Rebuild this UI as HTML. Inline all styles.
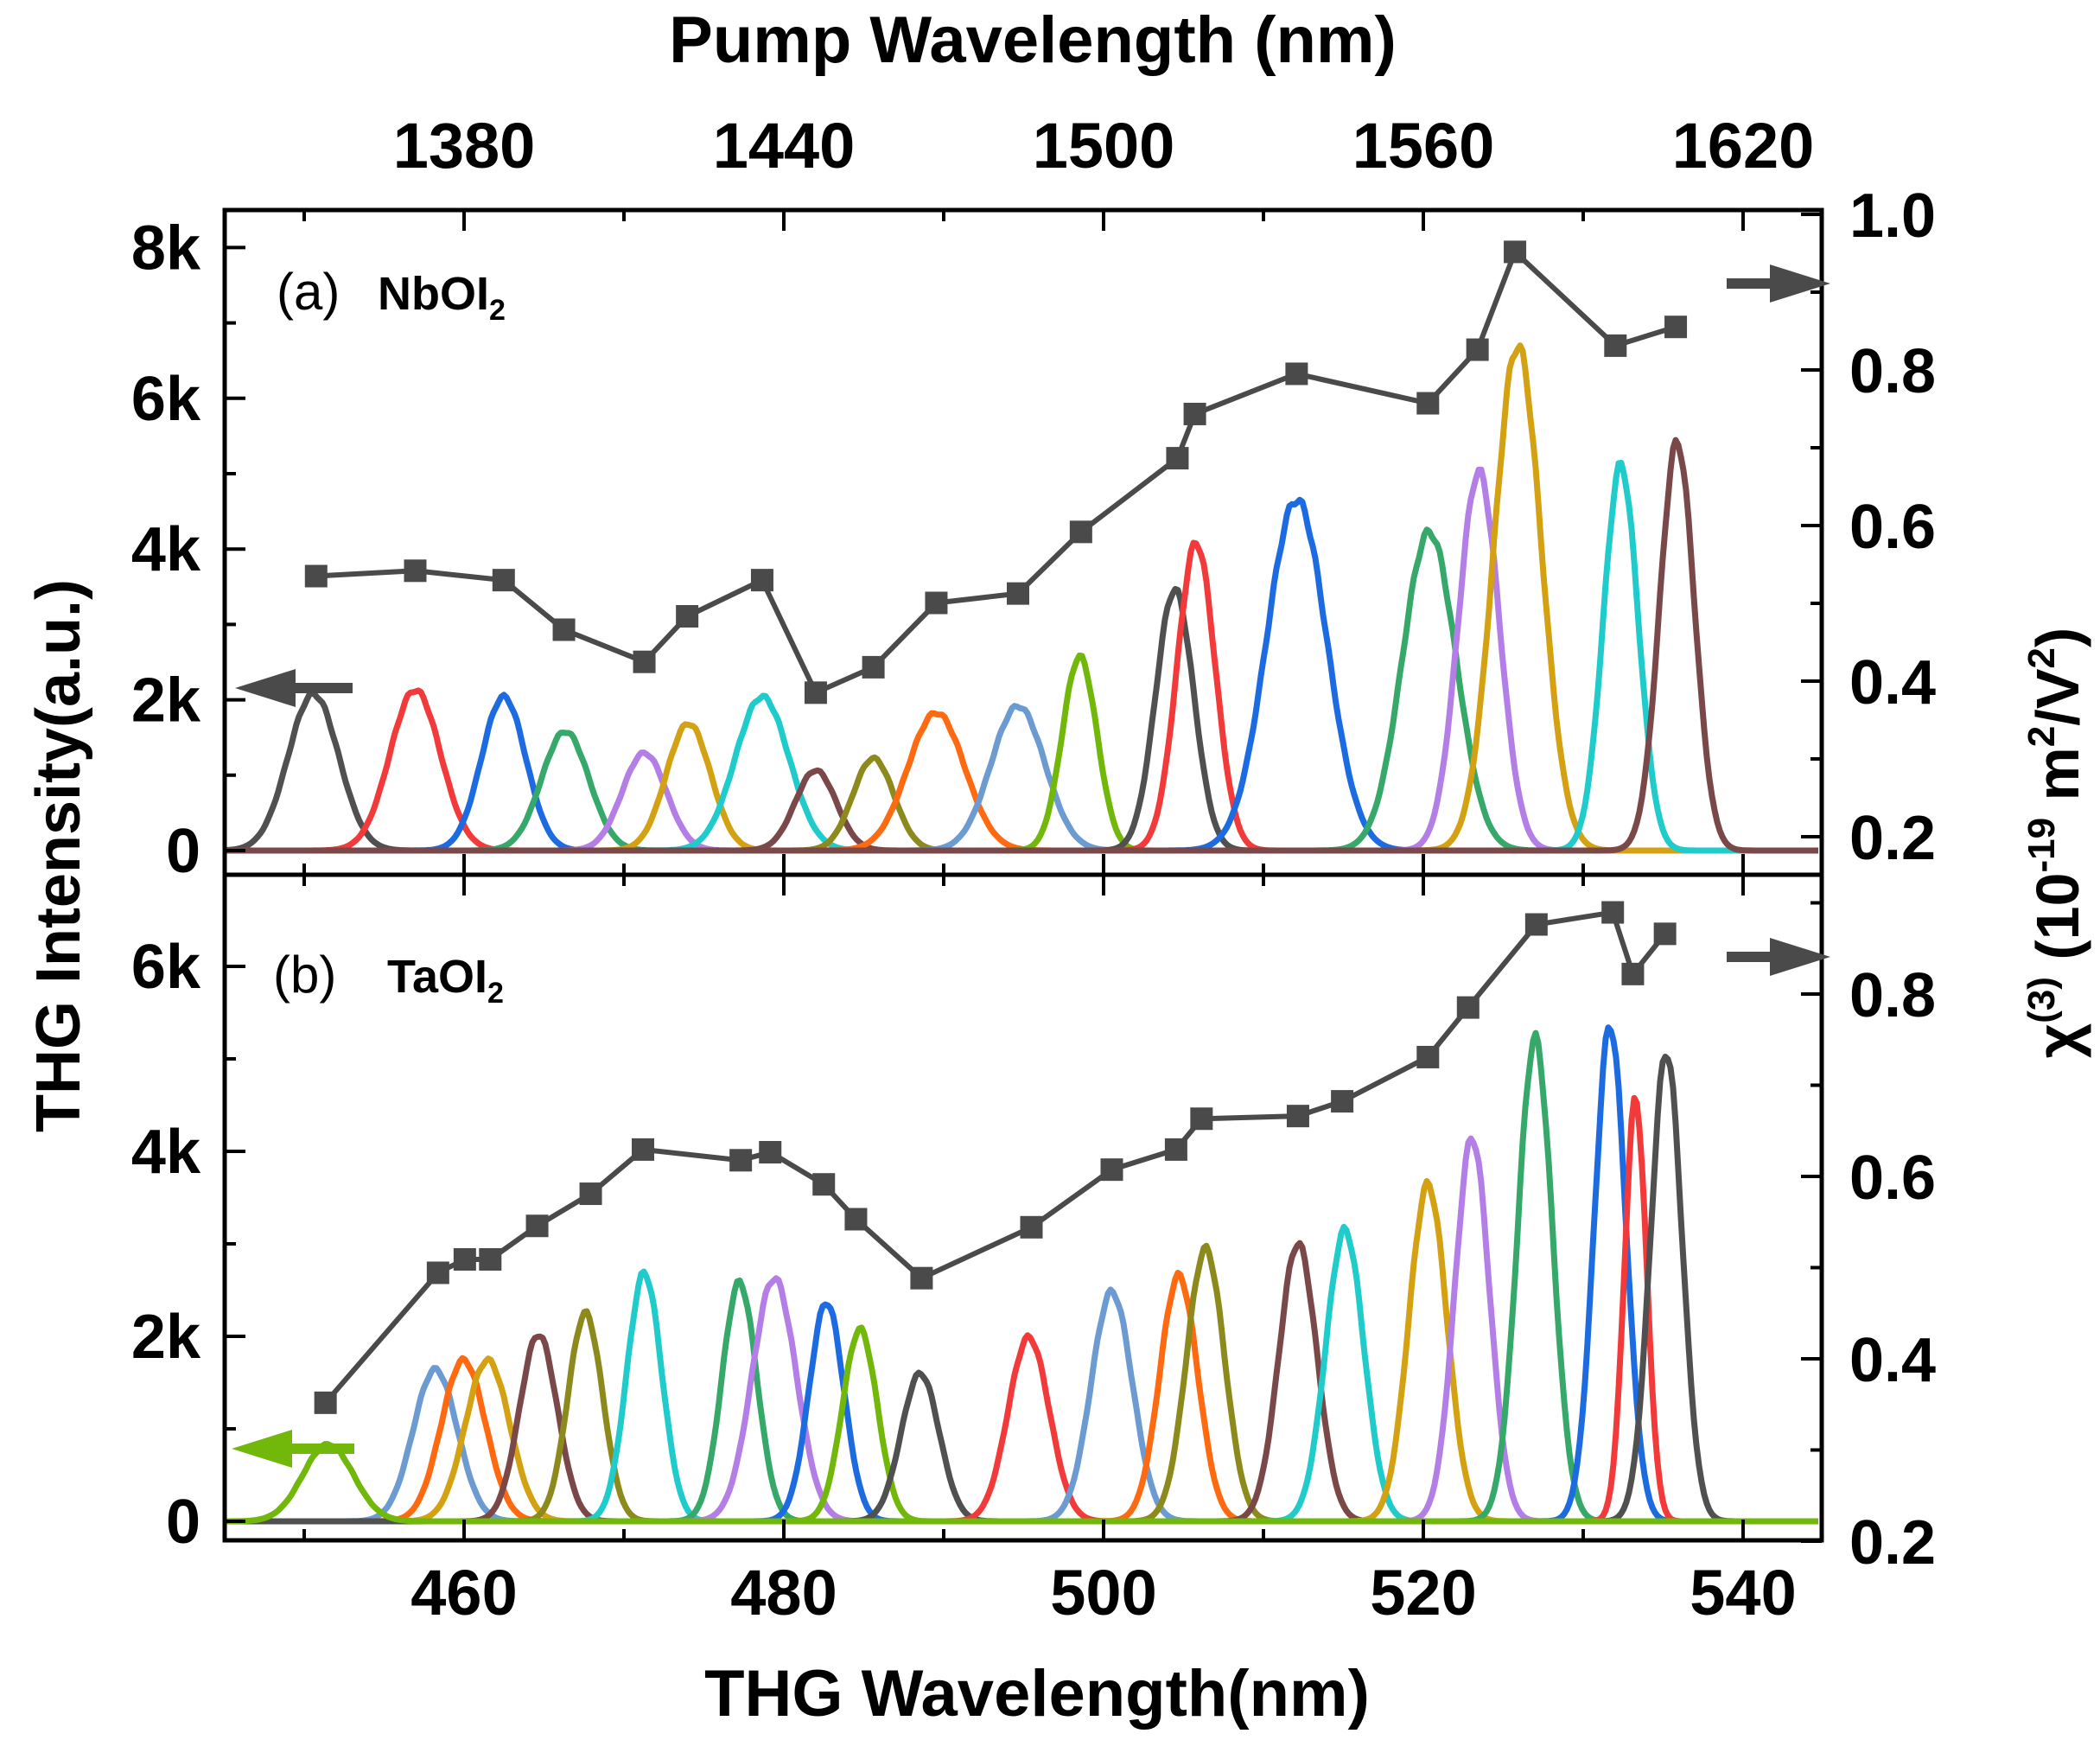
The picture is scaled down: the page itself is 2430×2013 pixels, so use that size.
<!DOCTYPE html>
<html><head><meta charset="utf-8"><style>
html,body{margin:0;padding:0;background:#fff;}
svg{display:block;}
text{font-family:"Liberation Sans",Arial,sans-serif;font-weight:bold;fill:#000;}
</style></head><body>
<svg id="s" width="2430" height="2013" viewBox="0 0 2430 2013" xmlns="http://www.w3.org/2000/svg">
<g id="curves"></g>
<g id="axes" stroke="#000" fill="none"></g>
<g id="chi"></g>
<text x="1195" y="72" font-size="76" text-anchor="middle">Pump Wavelength (nm)</text>
<text x="1200" y="1985" font-size="76" text-anchor="middle">THG Wavelength(nm)</text>
<text transform="translate(92,990) rotate(-90)" font-size="72" text-anchor="middle">THG Intensity(a.u.)</text>
<text transform="translate(2405,975) rotate(-90)" font-size="70" text-anchor="middle">χ<tspan font-size="44" dy="-28">(3)</tspan><tspan dy="28"> (10</tspan><tspan font-size="44" dy="-28">-19</tspan><tspan dy="28"> m</tspan><tspan font-size="44" dy="-28">2</tspan><tspan dy="28">/V</tspan><tspan font-size="44" dy="-28">2</tspan><tspan dy="28">)</tspan></text>
<text x="320" y="358" font-size="60" style="font-weight:normal">(a)</text>
<text x="437" y="358" font-size="54">NbOI<tspan font-size="34" dy="12">2</tspan></text>
<text x="316" y="1148" font-size="60" style="font-weight:normal">(b)</text>
<text x="448" y="1148" font-size="54">TaOI<tspan font-size="34" dy="12">2</tspan></text>
<g id="labels"></g>
</svg>
<script>
const S=1.55, NS="http://www.w3.org/2000/svg";
const L=260,R=2108,TOP=243,MID=1012,BOT=1782;
function X(l){return 537+(l-460)*18.5;}
function el(p,t,a,txt){const e=document.createElementNS(NS,t);for(const k in a)e.setAttribute(k,a[k]);if(txt!==undefined)e.textContent=txt;p.appendChild(e);return e;}
const C={gray:'#505050',red:'#f23a3a',blue:'#1c6be0',green:'#35a86a',purple:'#b37ee6',gold:'#d4a112',cyan:'#1fcbcb',brown:'#7a4848',olive:'#8c8a1c',orange:'#ff6a10',lb:'#6c9bd2',lime:'#72b80a'};
const cv=document.getElementById('curves');
function spec(base,list){
  list.forEach(([c,px,py,sd])=>{
    const x0=px*S, A=base-py*S, s=sd*S*1.18;
    let d='';
    for(let x=L+2;x<=R-2;x+=3){
      const g=Math.exp(-0.5*((x-x0)/s)**2);
      const n=g>0.05?(Math.sin(x*1.7)*0.012*A*g):0;
      const y=base-A*g+n;
      d+=(d?'L':'M')+x.toFixed(1)+' '+y.toFixed(1);
    }
    el(cv,'path',{d:d,fill:'none',stroke:C[c],'stroke-width':7,'stroke-linejoin':'round'});
  });
}
const baseA=984, baseB=1760;
spec(baseA,[
['gray',234,518,16],['red',310,515,16],['blue',376,520,14],['green',422,546,15],['purple',481,562,14],
['gold',514,540,14],['cyan',569,520,17],['brown',609,575,13],['olive',652,566,13],['orange',699,532,18],
['lb',760,527,17],['lime',806,490,11],['gray',877,440,12],['red',893,405,12],['blue',968,373,19],
['green',1067,397,17],['purple',1104,352,13],['gold',1133,258,15],['cyan',1210,347,11],['brown',1252,330,11]]);
spec(baseB,[
['lb',325,1022,14],['orange',346,1015,14],['gold',364,1015,14],['brown',402,996,12],['olive',437,980,11],
['cyan',481,950,11],['green',552,957,11],['purple',578,954,14],['blue',617,972,11],['lime',642,992,11],
['gray',687,1025,12],['red',768,998,13],['lb',830,964,13],['orange',880,952,12],['olive',900,932,12],
['brown',969,928,12],['cyan',1004,918,12],['gold',1066,884,12],['purple',1099,849,11],['green',1146,775,11],
['blue',1202,765,10],['red',1221,820,7],['gray',1244,785,10],['lime',245,1078,16]]);
const ax=document.getElementById('axes'),lb=document.getElementById('labels');
el(ax,'rect',{x:L,y:TOP,width:R-L,height:BOT-TOP,'stroke-width':5});
el(ax,'line',{x1:L,y1:MID,x2:R,y2:MID,'stroke-width':5});
for(let l=450;l<=540;l+=10){const x=X(l),mj=(l%20==0);const len=mj?24:13;
  el(ax,'line',{x1:x,y1:TOP,x2:x,y2:TOP+len,'stroke-width':4});
  el(ax,'line',{x1:x,y1:BOT,x2:x,y2:BOT-len,'stroke-width':4});
  el(ax,'line',{x1:x,y1:MID,x2:x,y2:MID-len,'stroke-width':4});
  el(ax,'line',{x1:x,y1:MID,x2:x,y2:MID+len,'stroke-width':4});
  if(mj){el(lb,'text',{x:x,y:1868,'font-size':74,'text-anchor':'middle'},l);
         el(lb,'text',{x:x,y:194,'font-size':74,'text-anchor':'middle'},l*3);}
}
for(let k=0;k<=8;k++){const y=baseA-k*87.2;if(y<TOP+5)continue;const mj=k%2==0;
  el(ax,'line',{x1:L,y1:y,x2:L+(mj?24:13),y2:y,'stroke-width':4});
  if(mj)el(lb,'text',{x:232,y:y+25,'font-size':72,'text-anchor':'end'},k?k+'k':'0');}
for(let k=0;k<=6;k++){const y=baseB-k*107;const mj=k%2==0;
  el(ax,'line',{x1:L,y1:y,x2:L+(mj?24:13),y2:y,'stroke-width':4});
  if(mj)el(lb,'text',{x:232,y:y+25,'font-size':72,'text-anchor':'end'},k?k+'k':'0');}
function ya(v){return 968-(v-0.2)/0.2*180;}
function yb(v){return 1783-(v-0.2)/0.2*211;}
for(let i=2;i<=10;i++){const v=i/10,y=ya(v),mj=i%2==0;
  el(ax,'line',{x1:R,y1:y,x2:R-(mj?24:13),y2:y,'stroke-width':4});
  if(mj)el(lb,'text',{x:2140,y:y+26,'font-size':72},v.toFixed(1));}
for(let i=2;i<=9;i++){const v=i/10,y=yb(v),mj=i%2==0;
  if(y<MID+5)continue;
  el(ax,'line',{x1:R,y1:y,x2:R-(mj?24:13),y2:y,'stroke-width':4});
  if(mj)el(lb,'text',{x:2140,y:y+26,'font-size':72},v.toFixed(1));}
const ch=document.getElementById('chi');
function chi(pts){const P=pts.map(([x,y])=>[x*S,y*S]);
  el(ch,'polyline',{points:P.map(p=>p.join(',')).join(' '),fill:'none',stroke:'#4a4a4a','stroke-width':6});
  P.forEach(([x,y])=>el(ch,'rect',{x:x-13,y:y-13,width:26,height:26,fill:'#4a4a4a'}));}
chi([[236,430],[310,426],[376,433],[421,470],[481,494],[513,460],[569,433],[609,517],[652,498],[699,450],[760,443],[807,397],[879,342],[892,309],[968,279],[1066,301],[1103,261],[1131,188],[1206,258],[1251,244]]);
chi([[243,1047],[327,950],[347,940],[366,940],[401,915],[441,891],[480,858],[553,866],[575,860],[615,884],[639,910],[688,954],[770,916],[830,873],[878,858],[897,835],[969,833],[1002,822],[1066,789],[1096,752],[1147,690],[1204,681],[1219,727],[1243,697]]);
function arrow(x1,x2,y,c){const dir=x2>x1?1:-1;const hx=x2-dir*70;
  el(ch,'line',{x1:x1,y1:y,x2:hx,y2:y,stroke:c,'stroke-width':12});
  el(ch,'polygon',{points:`${x2},${y} ${hx},${y-22} ${hx},${y+22}`,fill:c});}
arrow(408,272,796,'#4a4a4a');
arrow(1998,2118,328,'#4a4a4a');
arrow(410,268,1676,'#72b80a');
arrow(1998,2118,1107,'#4a4a4a');
</script>
</body></html>
